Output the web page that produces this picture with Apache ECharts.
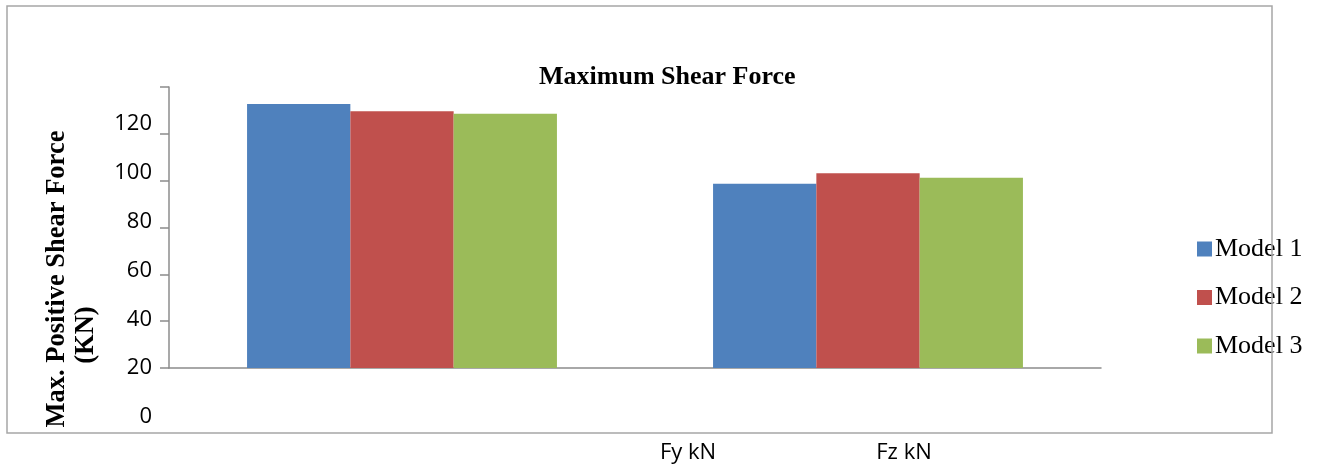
<!DOCTYPE html>
<html>
<head>
<meta charset="utf-8">
<script src="https://cdn.jsdelivr.net/npm/echarts@6/dist/echarts.min.js"></script>
<style>html,body{margin:0;padding:0;background:#fff}#c{width:1320px;height:468px}</style>
</head>
<body>
<div id="c"></div>
<script>
var categories = ['Fy kN', 'Fz kN'];
var seriesNames = ['Model 1', 'Model 2', 'Model 3'];
var model1 = [128.2, 95.5];
var model2 = [125.3, 99.8];
var model3 = [124.2, 98.0];
var yTickLabels = [0, 20, 40, 60, 80, 100, 120];

var colors = ['#4F81BD', '#C0504D', '#9BBB59'];
var chart = echarts.init(document.getElementById('c'));
var axisGray = '#8c8c8c';

chart.setOption({
  animation: false,
  color: colors,
  title: {
    text: 'Maximum Shear Force',
    left: 534, top: 59,
    textStyle: {fontFamily: 'Liberation Serif', fontWeight: 'bold', fontSize: 26, color: '#000'}
  },
  legend: {
    orient: 'vertical',
    left: 1192, top: 231,
    itemWidth: 15, itemHeight: 15, itemGap: 22.5,
    icon: 'rect',
    data: seriesNames,
    textStyle: {fontFamily: 'Liberation Serif', fontSize: 26, color: '#000', padding: [0,0,0,-2]}
  },
  grid: [
    {left: 169, top: 87, width: 932, height: 281},
    {left: 169, top: 87, width: 10, height: 330},
    {left: 580, top: 380, width: 432, height: 60}
  ],
  xAxis: [
    {type: 'category', gridIndex: 0, data: categories,
     axisLine: {lineStyle: {color: axisGray, width: 1.5}}, axisTick: {show: false}, axisLabel: {show: false}},
    {type: 'category', gridIndex: 1, data: categories, show: false},
    {type: 'category', gridIndex: 2, data: categories,
     axisLine: {show: false}, axisTick: {show: false},
     axisLabel: {margin: 2, fontFamily: 'Open Sans', fontSize: 22, color: '#000'}}
  ],
  yAxis: [
    {type: 'value', gridIndex: 0, min: 20, max: 135.2, interval: 19.2,
     axisLine: {show: true, lineStyle: {color: axisGray, width: 1.5}},
     axisTick: {show: true, length: 9, lineStyle: {color: axisGray, width: 1.5}},
     axisLabel: {show: false}, splitLine: {show: false}},
    {type: 'value', gridIndex: 1, min: 0, max: 135.2, interval: 20,
     axisLine: {show: false}, axisTick: {show: false}, splitLine: {show: false},
     axisLabel: {margin: 17, fontFamily: 'Open Sans', fontSize: 22, color: '#000',
       formatter: function (v) { return yTickLabels.indexOf(v) >= 0 ? String(v) : ''; }}},
    {type: 'value', gridIndex: 2, show: false}
  ],
  series: [
    {name: seriesNames[0], type: 'bar', xAxisIndex: 0, yAxisIndex: 0, data: model1, barGap: '0%', barCategoryGap: '33.5%'},
    {name: seriesNames[1], type: 'bar', xAxisIndex: 0, yAxisIndex: 0, data: model2, barGap: '0%', barCategoryGap: '33.5%'},
    {name: seriesNames[2], type: 'bar', xAxisIndex: 0, yAxisIndex: 0, data: model3, barGap: '0%', barCategoryGap: '33.5%'}
  ],
  graphic: [
    {type: 'rect', shape: {x: 7, y: 6, width: 1265, height: 427}, style: {fill: 'none', stroke: '#a6a6a6', lineWidth: 1.5}, z: 100},
    {type: 'text', x: 57, y: 279, rotation: Math.PI / 2,
     style: {text: 'Max. Positive Shear Force', font: 'bold 26.5px "Liberation Serif"', fill: '#000', align: 'center', verticalAlign: 'middle'}},
    {type: 'text', x: 86, y: 335, rotation: Math.PI / 2,
     style: {text: '(KN)', font: 'bold 26.5px "Liberation Serif"', fill: '#000', align: 'center', verticalAlign: 'middle'}}
  ]
});
</script>
</body>
</html>
